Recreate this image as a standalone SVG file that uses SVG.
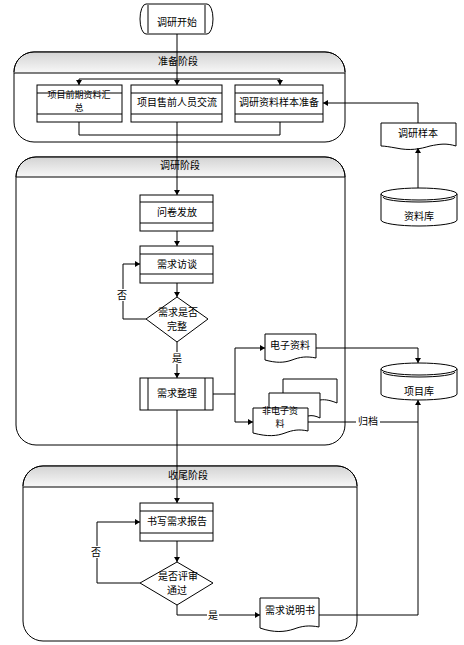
<svg xmlns="http://www.w3.org/2000/svg" width="464" height="645" viewBox="0 0 464 645">
<defs>
<linearGradient id="hdr" x1="0" y1="0" x2="0" y2="1">
<stop offset="0" stop-color="#d4d4d4"/>
<stop offset="1" stop-color="#f8f8f8"/>
</linearGradient>
<marker id="ah" markerWidth="6" markerHeight="6" refX="5" refY="3" orient="auto" markerUnits="userSpaceOnUse">
<path d="M0,0 L5,3 L0,6 Z" fill="#000"/>
</marker>
</defs>
<style>
text{font-family:"Noto Sans CJK SC","Noto Sans",sans-serif;font-size:10px;text-anchor:middle;fill:#000}
text.sm{font-size:9px}
.s{fill:#fff;stroke:#000;stroke-width:1}
.ln{fill:none;stroke:#000;stroke-width:1}
.lane{fill:#fff;stroke:#000;stroke-width:1}
.h{fill:url(#hdr);stroke:none}
.c{fill:none;stroke:#000;stroke-width:1}
.a{marker-end:url(#ah)}
.bg{fill:#fff;stroke:none}
</style>

<g id="lane1">
<rect class="lane" x="14" y="52" width="331" height="90" rx="20" ry="20"/>
<path class="h" d="M14.5,73 V72 A20,20 0 0 1 34,52.5 H325 A20,20 0 0 1 344.5,72 V73 Z"/>
<path class="ln" d="M34,52 H325 A20,20 0 0 1 345,72 M14,72 A20,20 0 0 1 34,52"/>
<line class="ln" x1="14" y1="73" x2="345" y2="73"/>
<text x="178" y="65">准备阶段</text>
</g>
<g id="lane2">
<rect class="lane" x="16" y="157" width="329" height="288" rx="20" ry="20"/>
<path class="h" d="M16.5,177 V177 A20,20 0 0 1 36,157.5 H325 A20,20 0 0 1 344.5,177 Z"/>
<path class="ln" d="M16,177 A20,20 0 0 1 36,157 H325 A20,20 0 0 1 345,177"/>
<line class="ln" x1="16" y1="177" x2="345" y2="177"/>
<text x="180" y="169">调研阶段</text>
</g>
<g id="lane3">
<rect class="lane" x="23" y="466" width="334" height="175" rx="20" ry="20"/>
<path class="h" d="M23.5,487 V486 A20,20 0 0 1 43,466.5 H337 A20,20 0 0 1 356.5,486 V487 Z"/>
<path class="ln" d="M23,486 A20,20 0 0 1 43,466 H337 A20,20 0 0 1 357,486"/>
<line class="ln" x1="23" y1="487" x2="357" y2="487"/>
<text x="188" y="479">收尾阶段</text>
</g>

<g id="start">
<path class="s" d="M146,4 H207 A6,15 0 0 1 207,34 H146 A6,15 0 0 1 146,4 Z"/>
<line class="ln" x1="148" y1="5" x2="148" y2="33"/>
<line class="ln" x1="205" y1="5" x2="205" y2="33"/>
<text x="177" y="26">调研开始</text>
</g>

<g id="box1">
<rect class="s" x="37" y="85" width="85" height="37"/>
<line class="ln" x1="37" y1="93" x2="122" y2="93"/>
<line class="ln" x1="37" y1="114" x2="122" y2="114"/>
<text class="sm" x="79" y="98">项目前期资料汇</text>
<text class="sm" x="79" y="111">总</text>
</g>
<g id="box2">
<rect class="s" x="131" y="85" width="91" height="37"/>
<line class="ln" x1="131" y1="93" x2="222" y2="93"/>
<line class="ln" x1="131" y1="114" x2="222" y2="114"/>
<text x="177" y="106">项目售前人员交流</text>
</g>
<g id="box3">
<rect class="s" x="235" y="85" width="88" height="37"/>
<line class="ln" x1="235" y1="93" x2="323" y2="93"/>
<line class="ln" x1="235" y1="114" x2="323" y2="114"/>
<text x="279" y="106">调研资料样本准备</text>
</g>

<g id="sample">
<path class="s" d="M381,123 H456 V146 C446,143 440,144 430,146 C420,149 410,151 396,148 C390,147 385,146 381,146 Z"/>
<text x="418" y="137">调研样本</text>
</g>
<g id="datalib">
<path class="s" d="M381,194 A38,6 0 0 1 457,194 V220 A38,6 0 0 1 381,220 Z"/>
<path class="ln" d="M381,194 A38,6 0 0 0 457,194"/>
<path class="ln" d="M383,197 A36,5 0 0 0 455,197"/>
<text x="419" y="220">资料库</text>
</g>

<g id="q">
<rect class="s" x="140" y="195" width="73" height="36"/>
<line class="ln" x1="140" y1="202" x2="213" y2="202"/>
<line class="ln" x1="140" y1="223" x2="213" y2="223"/>
<text x="177" y="216">问卷发放</text>
</g>
<g id="interview">
<rect class="s" x="140" y="246" width="73" height="37"/>
<line class="ln" x1="140" y1="254" x2="213" y2="254"/>
<line class="ln" x1="140" y1="274" x2="213" y2="274"/>
<text x="177" y="268">需求访谈</text>
</g>
<g id="d1">
<path class="s" d="M177,297 L208,319 L177,342 L146,319 Z"/>
<text x="178" y="316">需求是否</text>
<text x="177" y="330">完整</text>
</g>
<g id="organize">
<rect class="s" x="140" y="378" width="73" height="32"/>
<line class="ln" x1="148" y1="378" x2="148" y2="410"/>
<line class="ln" x1="205" y1="378" x2="205" y2="410"/>
<text x="177" y="397">需求整理</text>
</g>
<g id="edoc">
<path class="s" d="M265,334 H316 V358 C306,356 300,357 292,360 C284,363 276,363 265,360 Z"/>
<text x="290" y="349">电子资料</text>
</g>
<g id="nedoc">
<path class="s" d="M283,393 V379 H337 V403 C332,401 326,399 320,400"/>
<path class="s" d="M269,408 V393 H320 V418 C316,416 312,415 308,416"/>
<path class="s" d="M253,408 H308 V431 C299,429 293,430 285,433 C277,436 268,437 253,433 Z"/>
<text class="sm" x="280" y="414">非电子资</text>
<text class="sm" x="280" y="427">料</text>
</g>
<g id="projlib">
<path class="s" d="M381,369 A38,6 0 0 1 457,369 V394 A38,6 0 0 1 381,394 Z"/>
<path class="ln" d="M381,369 A38,6 0 0 0 457,369"/>
<path class="ln" d="M383,372 A36,5 0 0 0 455,372"/>
<text x="419" y="395">项目库</text>
</g>

<g id="report">
<rect class="s" x="140" y="503" width="73" height="38"/>
<line class="ln" x1="140" y1="511" x2="213" y2="511"/>
<line class="ln" x1="140" y1="533" x2="213" y2="533"/>
<text x="177" y="525">书写需求报告</text>
</g>
<g id="d2">
<path class="s" d="M177,562 L213,583 L177,605 L140,583 Z"/>
<text x="178" y="580">是否评审</text>
<text x="177" y="594">通过</text>
</g>
<g id="spec">
<path class="s" d="M260,598 H319 V627 C309,625 302,626 294,629 C285,632 274,633 260,628 Z"/>
<text x="290" y="614">需求说明书</text>
</g>

<g id="connectors">
<path class="c a" d="M177,34 V85"/>
<path class="c" d="M79,79 H280"/>
<path class="c a" d="M79,79 V85"/>
<path class="c a" d="M280,79 V85"/>
<path class="c" d="M79,122 V135 H280 V122"/>
<path class="c a" d="M177,122 V195"/>
<path class="c a" d="M418,123 V103 H323"/>
<path class="c a" d="M418,188 V148"/>
<path class="c a" d="M177,231 V246"/>
<path class="c a" d="M177,283 V297"/>
<path class="c a" d="M146,319 H123 V264 H140"/>
<rect class="bg" x="117" y="289" width="11" height="12"/>
<text x="122" y="299">否</text>
<path class="c a" d="M177,342 V378"/>
<rect class="bg" x="171" y="352" width="12" height="12"/>
<text x="177" y="362">是</text>
<path class="c" d="M213,394 H235 M235,348 V422"/>
<path class="c a" d="M235,348 H265"/>
<path class="c a" d="M235,422 H253"/>
<path class="c a" d="M316,348 H418 V363"/>
<path class="c" d="M308,422 H418"/>
<rect class="bg" x="356" y="415" width="24" height="13"/>
<text x="368" y="425">归档</text>
<path class="c a" d="M177,410 V503"/>
<path class="c a" d="M177,541 V562"/>
<path class="c a" d="M140,583 H97 V522 H140"/>
<rect class="bg" x="91" y="546" width="11" height="12"/>
<text x="96" y="556">否</text>
<path class="c a" d="M177,605 V615 H260"/>
<rect class="bg" x="207" y="609" width="12" height="12"/>
<text x="213" y="619">是</text>
<path class="c a" d="M319,615 H418 V400"/>
</g>
</svg>
